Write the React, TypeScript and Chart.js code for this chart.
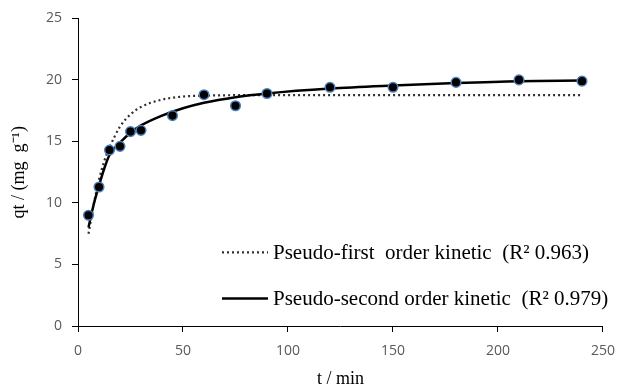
import React, { useEffect, useRef } from "react";
import { Chart, registerables } from "chart.js";

Chart.register(...registerables);

// Experimental data
const timeMin = [5, 10, 15, 20, 25, 30, 45, 60, 75, 90, 120, 150, 180, 210, 240];
const qtExperimental = [9.0, 11.3, 14.3, 14.6, 15.8, 15.9, 17.1, 18.8, 17.9, 18.9, 19.4, 19.4, 19.8, 20.0, 19.9];

// Model curves
const fitTime = [5, 7.5, 10, 12.5, 15, 20, 25, 30, 40, 50, 60, 75, 90, 120, 150, 180, 210, 240];
const pseudoFirst = [7.5, 9.9, 11.9, 13.4, 14.5, 16.2, 17.2, 17.8, 18.4, 18.65, 18.72, 18.76, 18.77, 18.77, 18.77, 18.77, 18.77, 18.77];
const pseudoSecond = [8.0, 9.9, 11.4, 12.8, 13.9, 14.9, 15.7, 16.3, 17.1, 17.7, 18.15, 18.6, 18.9, 19.3, 19.55, 19.75, 19.9, 19.95];

const legendFirst = "Pseudo-first  order kinetic  (R² 0.963)";
const legendSecond = "Pseudo-second order kinetic  (R² 0.979)";

const xTitle = "t / min";
const yTitle = "qt / (mg  g⁻¹)";

const SERIF = "'Liberation Serif', 'Times New Roman', serif";
const SANS = "'Open Sans', 'Liberation Sans', sans-serif";

const insideLegend = {
  id: "insideLegend",
  afterDatasetsDraw(chart: any) {
    const { ctx, chartArea } = chart;
    const items = chart.data.datasets.filter((d: any) => d.legendText);
    const x0 = chartArea.left + 144;
    const lineLen = 46;
    const baselines = [chartArea.top + 241, chartArea.top + 287];
    ctx.save();
    items.forEach((d: any, i: number) => {
      const by = baselines[i];
      const ly = by - 7;
      ctx.beginPath();
      ctx.setLineDash(d.borderDash || []);
      ctx.lineWidth = d.borderWidth;
      ctx.strokeStyle = d.borderColor;
      ctx.moveTo(x0, ly);
      ctx.lineTo(x0 + lineLen, ly);
      ctx.stroke();
      ctx.setLineDash([]);
      ctx.fillStyle = "#000";
      ctx.font = `21px ${SERIF}`;
      ctx.textBaseline = "alphabetic";
      ctx.textAlign = "left";
      ctx.fillText(d.legendText, x0 + lineLen + 5, by);
    });
    ctx.restore();
  },
};

export default function App() {
  const canvasRef = useRef<HTMLCanvasElement | null>(null);

  useEffect(() => {
    const canvas = canvasRef.current;
    if (!canvas) return;
    const chart = new Chart(canvas, {
      type: "scatter",
      data: {
        datasets: [
          {
            label: "Experimental",
            data: timeMin.map((t, i) => ({ x: t, y: qtExperimental[i] })),
            backgroundColor: "#000000",
            borderColor: "#4a7ebb",
            borderWidth: 1.5,
            pointRadius: 4.8,
            pointHoverRadius: 4.8,
            showLine: false,
            order: 0,
          },
          {
            label: "Pseudo-first",
            legendText: legendFirst,
            data: fitTime.map((t, i) => ({ x: t, y: pseudoFirst[i] })),
            showLine: true,
            borderColor: "#2e2e2e",
            borderWidth: 2.2,
            borderDash: [2, 3],
            pointRadius: 0,
            cubicInterpolationMode: "monotone",
            order: 2,
          } as any,
          {
            label: "Pseudo-second",
            legendText: legendSecond,
            data: fitTime.map((t, i) => ({ x: t, y: pseudoSecond[i] })),
            showLine: true,
            borderColor: "#000000",
            borderWidth: 2.5,
            pointRadius: 0,
            cubicInterpolationMode: "monotone",
            order: 1,
          } as any,
        ],
      },
      options: {
        animation: false,
        responsive: true,
        maintainAspectRatio: false,
        layout: { padding: { left: 0, right: 16, top: 17, bottom: 0 } },
        plugins: {
          legend: { display: false },
          tooltip: { enabled: false },
        },
        scales: {
          x: {
            type: "linear",
            min: 0,
            max: 250,
            afterFit: (s: any) => {
              s.height = 62;
            },
            ticks: {
              stepSize: 50,
              padding: 11,
              color: "#595959",
              font: { family: SANS, size: 14 },
              maxRotation: 0,
            },
            grid: {
              display: true,
              drawOnChartArea: false,
              drawTicks: true,
              tickLength: 6,
              color: "#000",
            },
            border: { display: true, color: "#000", width: 1 },
            title: {
              display: true,
              text: xTitle,
              color: "#000",
              font: { family: SERIF, size: 18, lineHeight: 1 },
              padding: { top: 0, bottom: 0 },
            },
          },
          y: {
            min: 0,
            max: 25,
            afterFit: (s: any) => {
              s.width = 78;
            },
            ticks: {
              stepSize: 5,
              padding: 10,
              color: "#595959",
              font: { family: SANS, size: 14 },
            },
            grid: {
              display: true,
              drawOnChartArea: false,
              drawTicks: true,
              tickLength: 6,
              color: "#000",
            },
            border: { display: true, color: "#000", width: 1 },
            title: {
              display: true,
              text: yTitle,
              color: "#000",
              font: { family: SERIF, size: 18, lineHeight: 1.2 },
              padding: { top: 8, bottom: 0 },
            },
          },
        },
      },
      plugins: [insideLegend],
    });
    return () => chart.destroy();
  }, []);

  return (
    <div style={{ position: "fixed", left: 0, top: 0, width: 626, height: 388, background: "#fff" }}>
      <canvas ref={canvasRef} />
    </div>
  );
}
